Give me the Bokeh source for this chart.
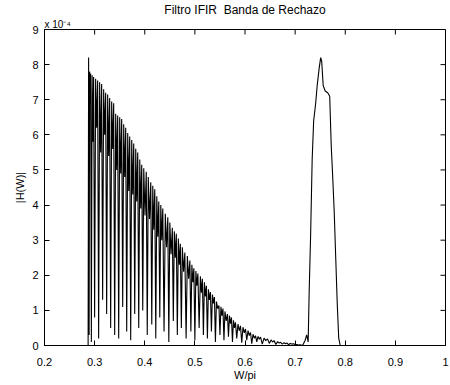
from bokeh.plotting import figure
from bokeh.models import Range1d, FixedTicker, Title
from bokeh.embed import file_html
from bokeh.resources import INLINE

# ---- data (|H(W)| in units of 1e-4) ----
lead_w = [0.2, 0.287]
lead_h = [0.0, 0.0]

ripple_peak_w = [0.288, 0.290, 0.292, 0.295, 0.298, 0.302, 0.306, 0.310, 0.314, 0.318,
                 0.322, 0.326, 0.330, 0.334, 0.338, 0.342, 0.346, 0.350, 0.354, 0.358,
                 0.362, 0.366, 0.370, 0.374, 0.378, 0.382, 0.386, 0.390, 0.394, 0.398,
                 0.403, 0.407, 0.412, 0.416, 0.420, 0.424, 0.428, 0.432, 0.436, 0.441,
                 0.446, 0.450, 0.455, 0.459, 0.463, 0.467, 0.471, 0.475, 0.480, 0.485,
                 0.490, 0.494, 0.498, 0.502, 0.506, 0.511, 0.515, 0.519, 0.523, 0.527,
                 0.531, 0.535, 0.539, 0.543, 0.548, 0.552, 0.556, 0.560, 0.565, 0.569,
                 0.573, 0.577, 0.581, 0.586, 0.591, 0.596, 0.601, 0.606, 0.611, 0.616,
                 0.621, 0.626, 0.631, 0.638, 0.645, 0.652, 0.658, 0.665, 0.671, 0.678,
                 0.684, 0.690, 0.697, 0.704, 0.710]
ripple_peak_h = [8.2, 7.8, 7.75, 7.7, 7.65, 7.6, 7.55, 7.5, 7.45, 7.3,
                 7.2, 7.15, 7.05, 6.95, 6.9, 6.6, 6.55, 6.5, 6.45, 6.3,
                 6.2, 6.05, 5.95, 5.85, 5.75, 5.6, 5.5, 5.3, 5.15, 5.05,
                 4.95, 4.8, 4.65, 4.55, 4.45, 4.25, 4.1, 4.0, 3.9, 3.75,
                 3.65, 3.5, 3.35, 3.25, 3.18, 3.05, 2.9, 2.8, 2.65, 2.55,
                 2.42, 2.3, 2.2, 2.12, 2.05, 1.97, 1.9, 1.8, 1.7, 1.6,
                 1.52, 1.45, 1.38, 1.25, 1.14, 1.1, 1.05, 0.97, 0.9, 0.85,
                 0.8, 0.72, 0.66, 0.61, 0.56, 0.52, 0.47, 0.42, 0.37, 0.32,
                 0.28, 0.26, 0.24, 0.21, 0.19, 0.16, 0.14, 0.11, 0.09, 0.08,
                 0.07, 0.06, 0.05, 0.03, 0.02]
ripple_trough_h = [0.3, 6.9, 0.1, 5.8, 0.8, 6.2, 0.2, 5.5, 1.3, 6.0, 0.9, 5.4, 0.5, 5.6, 0.3, 5.0,
                   0.2, 4.9, 1.1, 4.8, 0.4, 4.4, 0.15, 4.3, 0.9, 4.1, 0.5, 3.9, 1.0, 3.7, 0.3, 3.6,
                   0.6, 3.3, 0.2, 3.1, 0.8, 3.0, 0.4, 2.8, 0.1, 2.6, 0.7, 2.5, 0.3, 2.3, 0.5, 2.1,
                   0.2, 1.9, 0.4, 1.8, 0.15, 1.7, 0.5, 1.5, 0.3, 1.4, 0.2, 1.3, 0.4, 1.2, 0.1, 1.05,
                   0.3, 0.85, 0.15, 0.7, 0.25, 0.62, 0.1, 0.5, 0.2, 0.42, 0.08, 0.36, 0.15, 0.28, 0.05, 0.21,
                   0.1, 0.18, 0.04, 0.14, 0.06, 0.1, 0.03, 0.07, 0.04, 0.05, 0.02, 0.04, 0.02, 0.01]

band_w = [0.715, 0.720, 0.723, 0.726, 0.728, 0.731, 0.734, 0.737, 0.741, 0.744, 0.748,
          0.751, 0.753, 0.756, 0.760, 0.765, 0.769, 0.772, 0.775, 0.778, 0.781, 0.784,
          0.787, 0.790, 1.0]
band_h = [0.0, 0.15, 0.3, 0.1, 1.5, 3.2, 5.3, 6.4, 6.9, 7.4, 7.9,
          8.2, 8.1, 7.4, 7.25, 7.2, 7.1, 5.7, 4.8, 3.8, 2.5, 1.2,
          0.2, 0.0, 0.0]

x_ticks = [0.2, 0.3, 0.4, 0.5, 0.6, 0.7, 0.8, 0.9, 1.0]
x_tick_labels = ["0.2", "0.3", "0.4", "0.5", "0.6", "0.7", "0.8", "0.9", "1"]
y_ticks = [0, 1, 2, 3, 4, 5, 6, 7, 8, 9]
y_tick_labels = ["0", "1", "2", "3", "4", "5", "6", "7", "8", "9"]
title_text = "Filtro IFIR\u00a0 Banda de Rechazo"
x_label = "W/pi"
y_label = "|H(W)|"
exp_text = "x 10\u207b\u2074"

# ---- assemble the trace ----
w = list(lead_w)
h = list(lead_h)
for i in range(len(ripple_peak_w)):
    w.append(ripple_peak_w[i])
    h.append(ripple_peak_h[i])
    if i < len(ripple_trough_h):
        w.append((ripple_peak_w[i] + ripple_peak_w[i + 1]) / 2)
        h.append(ripple_trough_h[i])
w += band_w
h += band_h

FONT = "Liberation Sans"
X0, X1, Y0, Y1 = 0.2, 1.0, 0.0, 9.0

p = figure(width=450, height=385, output_backend="svg", toolbar_location=None,
           x_range=Range1d(X0, X1), y_range=Range1d(Y0, Y1), title=None,
           min_border_left=44, min_border_right=5, min_border_top=29, min_border_bottom=40,
           background_fill_color="white", border_fill_color="white")
p.outline_line_color = "black"
p.outline_line_width = 1
p.grid.visible = False

# exponent note (closest to the frame), then the main title above it
p.add_layout(Title(text=exp_text, align="left", text_font=FONT, text_font_size="10px",
                   text_font_style="normal", text_color="black", standoff=0), "above")
p.add_layout(Title(text=title_text, align="center", text_font=FONT, text_font_size="12px",
                   text_font_style="normal", text_color="black", standoff=0), "above")

p.line(w, h, line_color="black", line_width=1.1)

# inward ticks on the top and right edges (box), from the tick lists
tick_x_len = 5 * (X1 - X0) / 401
tick_y_len = 5 * (Y1 - Y0) / 316
p.segment(x0=x_ticks, y0=[Y1] * len(x_ticks), x1=x_ticks, y1=[Y1 - tick_y_len] * len(x_ticks),
          line_color="black", line_width=1)
p.segment(x0=[X1] * len(y_ticks), y0=y_ticks, x1=[X1 - tick_x_len] * len(y_ticks), y1=y_ticks,
          line_color="black", line_width=1)

xa = p.xaxis[0]
xa.ticker = FixedTicker(ticks=x_ticks)
xa.major_label_overrides = {t: l for t, l in zip(x_ticks, x_tick_labels)}
ya = p.yaxis[0]
ya.ticker = FixedTicker(ticks=y_ticks)
ya.major_label_overrides = {t: l for t, l in zip(y_ticks, y_tick_labels)}

for ax in (xa, ya):
    ax.major_tick_in = 5
    ax.major_tick_out = 0
    ax.minor_tick_line_color = None
    ax.axis_line_color = "black"
    ax.major_tick_line_color = "black"
    ax.major_label_text_font = FONT
    ax.major_label_text_font_size = "11px"
    ax.major_label_text_color = "black"
    ax.axis_label_text_font = FONT
    ax.axis_label_text_font_size = "11px"
    ax.axis_label_text_font_style = "normal"
    ax.axis_label_text_color = "black"

xa.axis_label = x_label
xa.major_label_standoff = 12
xa.axis_label_standoff = 0
ya.axis_label = y_label
ya.major_label_standoff = 6
ya.axis_label_standoff = 3

open("out.html", "w").write(file_html(p, INLINE))
